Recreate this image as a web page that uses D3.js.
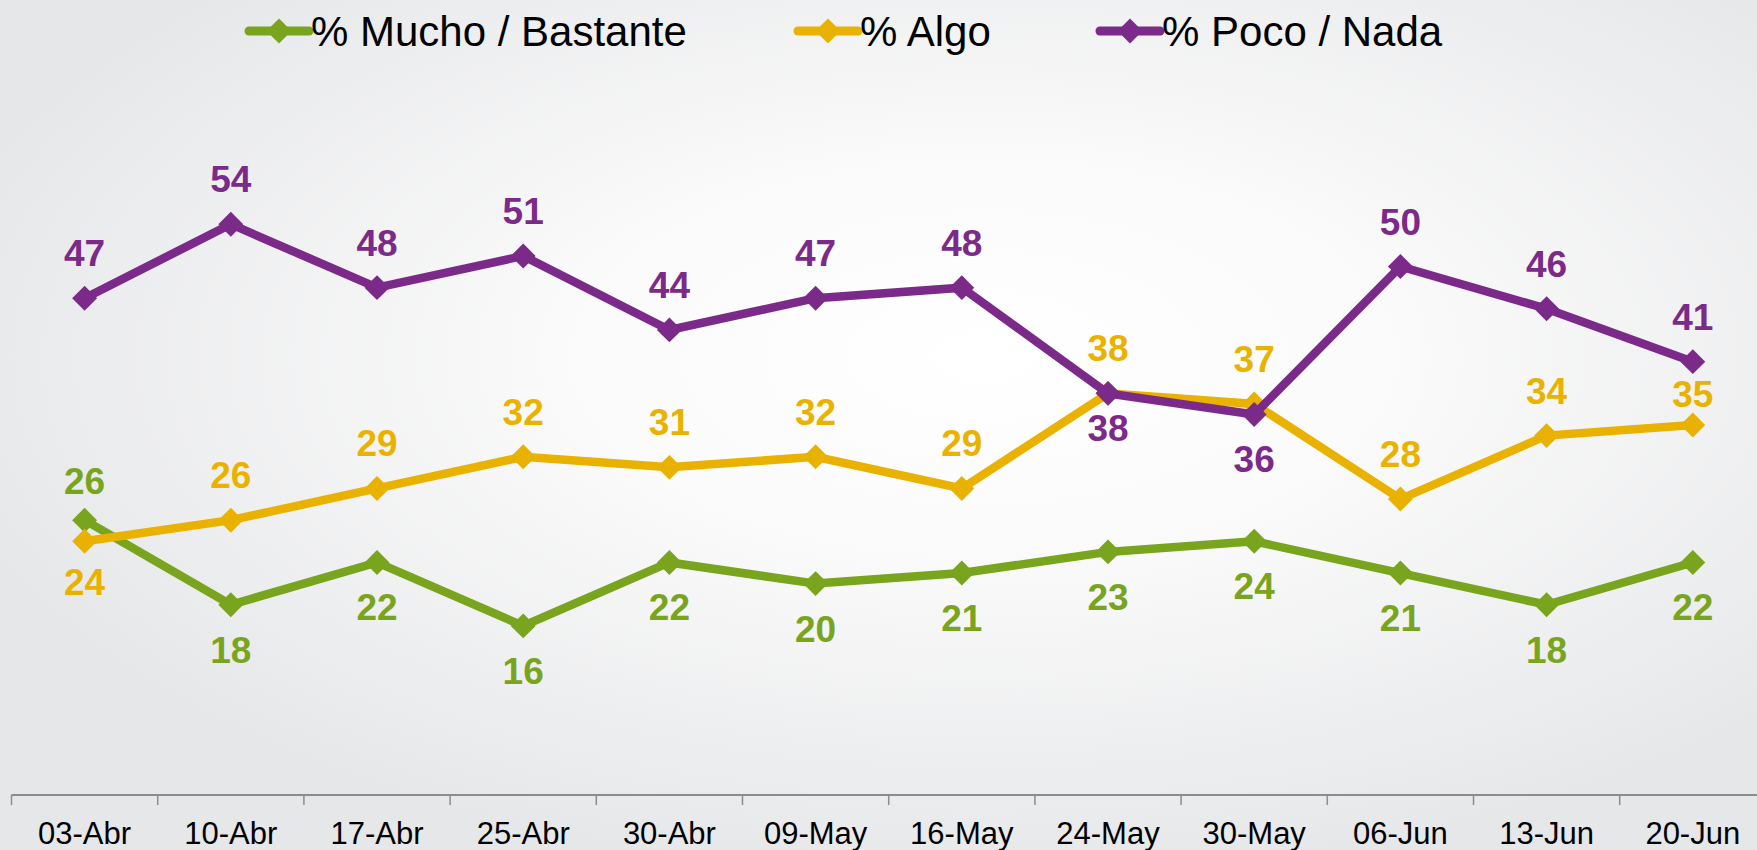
<!DOCTYPE html>
<html>
<head>
<meta charset="utf-8">
<script src="https://cdn.jsdelivr.net/npm/d3@7/dist/d3.min.js"></script>
<style>
  html, body { margin: 0; padding: 0; overflow: hidden; }
  svg { display: block; }
  text { font-family: "Liberation Sans", Arial, sans-serif; }
</style>
</head>
<body>
<script>
const categories = ["03-Abr","10-Abr","17-Abr","25-Abr","30-Abr","09-May","16-May","24-May","30-May","06-Jun","13-Jun","20-Jun"];
const seriesNames = ["% Mucho / Bastante", "% Algo", "% Poco / Nada"];
const muchoBastante = [26, 18, 22, 16, 22, 20, 21, 23, 24, 21, 18, 22];
const algo = [24, 26, 29, 32, 31, 32, 29, 38, 37, 28, 34, 35];
const pocoNada = [47, 54, 48, 51, 44, 47, 48, 38, 36, 50, 46, 41];
// label placement: a = above, b = below
const muchoPlace = ["a","b","b","b","b","b","b","b","b","b","b","b"];
const algoPlace  = ["b","a","a","a","a","a","a","a","a","a","a","a"];
const pocoPlace  = ["a","a","a","a","a","a","a","b","b","a","a","a"];

const W = 1757, H = 850;
const colors = ["#79A41E", "#EAB200", "#7B2A89"];

const svg = d3.select("body").append("svg").attr("width", W).attr("height", H);
const defs = svg.append("defs");
const grad = defs.append("radialGradient").attr("id", "bg")
  .attr("cx", "56%").attr("cy", "42%").attr("r", "62%");
grad.append("stop").attr("offset", "0%").attr("stop-color", "#ffffff");
grad.append("stop").attr("offset", "35%").attr("stop-color", "#fbfbfb");
grad.append("stop").attr("offset", "100%").attr("stop-color", "#e6e7e9");
svg.append("rect").attr("width", W).attr("height", H).attr("fill", "url(#bg)");

const x = d3.scaleBand().domain(categories).range([11.5, 11.5 + 146.2 * 12]);
const y = d3.scaleLinear().domain([0, 60]).range([795, 795 - 60 * 10.57]);
const cx = c => x(c) + x.bandwidth() / 2;

// Axis
const axis = svg.append("g").attr("transform", "translate(0,795)")
  .call(d3.axisBottom(x).tickSize(0).tickPadding(0));
axis.select(".domain").remove();
axis.selectAll(".tick text").remove();
svg.append("line").attr("x1", 11.5).attr("x2", W).attr("y1", 795).attr("y2", 795)
  .attr("stroke", "#8c8c8c").attr("stroke-width", 2);
const tickXs = categories.map(c => x(c)).concat([x(categories[11]) + x.bandwidth()]);
svg.append("g").selectAll("line").data(tickXs).join("line")
  .attr("x1", d => d).attr("x2", d => d).attr("y1", 795).attr("y2", 805)
  .attr("stroke", "#8c8c8c").attr("stroke-width", 1.5);
svg.append("g").selectAll("text").data(categories).join("text")
  .attr("x", d => cx(d)).attr("y", 844)
  .attr("text-anchor", "middle").attr("font-size", 31).attr("fill", "#000")
  .text(d => d);

const series = [
  { name: seriesNames[0], values: muchoBastante, place: muchoPlace, color: colors[0] },
  { name: seriesNames[1], values: algo, place: algoPlace, color: colors[1] },
  { name: seriesNames[2], values: pocoNada, place: pocoPlace, color: colors[2] }
];

const line = d3.line().x((d, i) => cx(categories[i])).y(d => y(d));
const sq = d3.symbol().type(d3.symbolSquare).size(310);

series.forEach(s => {
  const g = svg.append("g");
  g.append("path").attr("d", line(s.values)).attr("fill", "none")
    .attr("stroke", s.color).attr("stroke-width", 8.5).attr("stroke-linejoin", "miter");
  g.selectAll("path.m").data(s.values).join("path").attr("class", "m")
    .attr("transform", (d, i) => `translate(${cx(categories[i])},${y(d)}) rotate(45)`)
    .attr("d", sq).attr("fill", s.color);
});

series.forEach((s, si) => {
  svg.append("g").selectAll("text").data(s.values).join("text")
    .attr("x", (d, i) => cx(categories[i]))
    .attr("y", (d, i) => {
      const base = y(d);
      let off;
      if (s.place[i] === "a") {
        off = -32;
        if (si === 1 && i === 11) off = -18;
        if (si === 0 && i === 0) off = -26;
      } else {
        off = 58;
        if (si === 2 && i === 7) off = 48;
        if (si === 1 && i === 0) off = 54;
      }
      return base + off;
    })
    .attr("text-anchor", "middle").attr("font-size", 37).attr("font-weight", "bold")
    .attr("fill", s.color).text(d => d);
});

// Legend
const legendX = [249, 798, 1100];
const lg = svg.append("g");
series.forEach((s, i) => {
  const g = lg.append("g").attr("transform", `translate(${legendX[i]},31)`);
  g.append("line").attr("x1", 0).attr("x2", 60).attr("y1", 0).attr("y2", 0)
    .attr("stroke", s.color).attr("stroke-width", 9).attr("stroke-linecap", "round");
  g.append("path").attr("transform", "translate(30,0) rotate(45)").attr("d", sq).attr("fill", s.color);
  g.append("text").attr("x", 62).attr("y", 15).attr("font-size", 42).attr("fill", "#000").text(s.name);
});
</script>
</body>
</html>
